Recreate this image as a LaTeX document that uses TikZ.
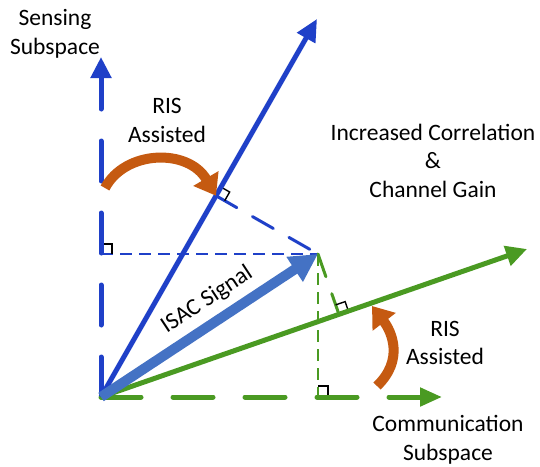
\documentclass[tikz,border=0pt]{standalone}
\usepackage{fontspec}
\setmainfont{Carlito}
\usetikzlibrary{arrows.meta,calc}
\definecolor{senseblue}{HTML}{1F40C8}
\definecolor{commgreen}{HTML}{4A9A22}
\definecolor{isacblue}{HTML}{4472C4}
\definecolor{risorange}{HTML}{C55A11}
\tikzset{
  lbl/.style={inner sep=0pt, align=center, font=\fontsize{23.5}{28.5}\selectfont},
  axisline/.style={line width=5pt, line cap=round, dash pattern=on 40pt off 32pt},
  vecline/.style={line width=5pt},
  projthin/.style={line width=1.8pt, dash pattern=on 12pt off 7pt},
  projmid/.style={line width=3pt, line cap=round, dash pattern=on 24pt off 18pt},
  rightmark/.style={black, line width=1.4pt},
  risarrow/.style={risorange, line width=10pt, -{Triangle[length=20pt,width=28pt]}},
}
\begin{document}
\begin{tikzpicture}[x=1pt,y=-1pt]
\useasboundingbox (0,0) rectangle (540,466);
% key points
\coordinate (O) at (101,397);
\coordinate (P) at (318,254);
\coordinate (Sax) at (101,57);
\coordinate (Cax) at (442,397);
\coordinate (S) at (317,19);
\coordinate (C) at (527,249);
\coordinate (Pv) at (101,254);
\coordinate (Ph) at (318,397);
\coordinate (Fs) at ($(O)!(P)!(S)$);
\coordinate (Fc) at ($(O)!(P)!(C)$);

% projection lines
\draw[projthin, senseblue] (Pv) -- (P);
\draw[projthin, commgreen] (P) -- (Ph);
\draw[projmid, senseblue] (Fs) -- (P);
\draw[projmid, commgreen] (P) -- (Fc);

% right-angle marks: corner = foot + both unit offsets
\coordinate (m1a) at ($(Pv)!10pt!(Sax)$);
\coordinate (m1b) at ($(Pv)!11pt!(P)$);
\draw[rightmark] (m1a) -- ($(m1a)+(m1b)-(Pv)$) -- (m1b);
\coordinate (m2a) at ($(Ph)!11pt!(P)$);
\coordinate (m2b) at ($(Ph)!10pt!(Cax)$);
\draw[rightmark] (m2a) -- ($(m2a)+(m2b)-(Ph)$) -- (m2b);
\coordinate (m3a) at ($(Fs)!10pt!(S)$);
\coordinate (m3b) at ($(Fs)!10pt!(P)$);
\draw[rightmark] (m3a) -- ($(m3a)+(m3b)-(Fs)$) -- (m3b);
\coordinate (m4a) at ($(Fc)!10pt!(C)$);
\coordinate (m4b) at ($(Fc)!10pt!(P)$);
\draw[rightmark] (m4a) -- ($(m4a)+(m4b)-(Fc)$) -- (m4b);

% subspace axes
\draw[axisline, senseblue, -{Triangle[length=21pt,width=20pt]}] (O) -- (Sax);
\draw[axisline, commgreen, -{Triangle[length=22pt,width=18pt]}] (O) -- (Cax);

% RIS-steered vectors
\draw[vecline, senseblue, -{Triangle[length=22pt,width=20pt]}] (O) -- (S);
\draw[vecline, commgreen, -{Triangle[length=21pt,width=20pt]}] (O) -- (C);

% ISAC signal
\draw[isacblue, line width=10pt, -{Triangle[length=28pt,width=28pt]}] (O) -- (P);
\node[lbl, rotate=33.4] (isac) at (207,300) {ISAC Signal};

% RIS rotation arrows
\coordinate (r1s) at (105,188);
\coordinate (r2s) at (377,386);
\draw[risarrow] (r1s) .. controls (125,150) and (188,148) .. (Fs);
\coordinate (r2e) at (372,306);
\draw[risarrow] (r2s) .. controls (404,360) and (392,332) .. (r2e);

% labels
\node[lbl] (sense) at (55,34) {Sensing\\Subspace};
\node[lbl] (ris1) at (167,120.5) {RIS\\Assisted};
\node[lbl] (gain) at (433,160.5) {Increased Correlation\\\&\\Channel Gain};
\node[lbl] (ris2) at (445,343) {RIS\\Assisted};
\node[lbl] (comm) at (448,440) {Communication\\Subspace};
\end{tikzpicture}
\end{document}
